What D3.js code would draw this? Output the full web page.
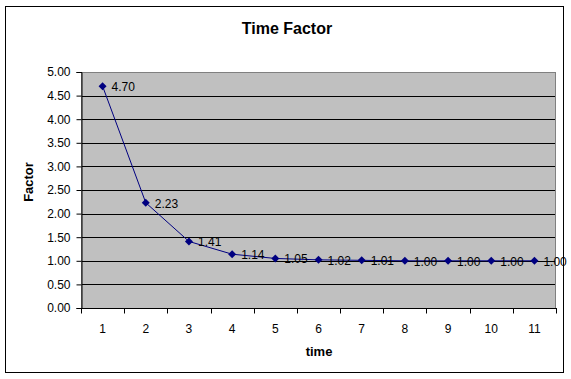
<!DOCTYPE html>
<html><head><meta charset="utf-8">
<script src="https://cdn.jsdelivr.net/npm/d3@7"></script>
<style>body{margin:0;background:#fff}svg{display:block}text{font-family:"Liberation Sans",Arial,sans-serif}</style>
</head><body><svg id="c" width="571" height="379"></svg>
<script>
const categories = [1,2,3,4,5,6,7,8,9,10,11];
const factor = [4.70,2.23,1.41,1.14,1.05,1.02,1.01,1.00,1.00,1.00,1.00];
const yTicks = [0,0.5,1,1.5,2,2.5,3,3.5,4,4.5,5];

const svg = d3.select("#c");
const L=81, R=556, T=72, B=308;
svg.append("rect").attr("x",5.5).attr("y",6.5).attr("width",558).attr("height",366)
  .attr("fill","#fff").attr("stroke","#000").attr("stroke-width",1);

const x = d3.scaleBand().domain(categories).range([L,R]);
const y = d3.scaleLinear().domain([0,5]).range([B,T]);

svg.append("rect").attr("x",L).attr("y",T).attr("width",R-L).attr("height",B-T).attr("fill","#c0c0c0");
svg.append("g").selectAll("line").data(yTicks.filter(d=>d>0)).join("line")
  .attr("x1",L).attr("x2",R).attr("y1",d=>Math.round(y(d))+0.5).attr("y2",d=>Math.round(y(d))+0.5)
  .attr("stroke","#000");
svg.append("rect").attr("x",L+0.5).attr("y",T+0.5).attr("width",R-L-1).attr("height",B-T)
  .attr("fill","none").attr("stroke","#808080");

const ya = svg.append("g").attr("transform",`translate(${L+0.5},0)`)
  .call(d3.axisLeft(y).tickValues(yTicks).tickFormat(d3.format(".2f")).tickSize(5).tickPadding(6));
ya.select(".domain").attr("stroke","#000");
ya.selectAll("text").attr("font-size",12).attr("fill","#000");

const xa = svg.append("g").attr("transform",`translate(0,${B+0.5})`);
xa.append("line").attr("x1",L).attr("x2",R+1).attr("stroke","#000");
xa.selectAll(".tk").data(d3.range(categories.length+1)).join("line")
  .attr("x1",i=>Math.round(L+i*x.step())+0.5).attr("x2",i=>Math.round(L+i*x.step())+0.5)
  .attr("y1",0).attr("y2",5).attr("stroke","#000");
xa.selectAll("text").data(categories).join("text")
  .attr("x",d=>x(d)+x.bandwidth()/2).attr("y",24).attr("text-anchor","middle")
  .attr("font-size",12).text(d=>d);

const cx = d=>x(d)+x.bandwidth()/2;
svg.append("path").datum(categories.map((c,i)=>[cx(c),y(factor[i])]))
  .attr("d",d3.line()).attr("fill","none").attr("stroke","#000080").attr("stroke-width",1);
svg.append("g").selectAll("path").data(categories).join("path")
  .attr("transform",(c,i)=>`translate(${cx(c)},${y(factor[i])})`)
  .attr("d","M0,-4L4,0L0,4L-4,0Z").attr("fill","#000080");
svg.append("g").selectAll("text").data(categories).join("text")
  .attr("x",c=>cx(c)+9).attr("y",(c,i)=>y(factor[i])+5)
  .attr("font-size",12).attr("fill","#000").text((c,i)=>factor[i].toFixed(2));

svg.append("text").attr("x",287).attr("y",34).attr("text-anchor","middle")
  .attr("font-size",16).attr("font-weight","bold").text("Time Factor");
svg.append("text").attr("transform","translate(33,182) rotate(-90)").attr("text-anchor","middle")
  .attr("font-size",13).attr("font-weight","bold").text("Factor");
svg.append("text").attr("x",319).attr("y",356).attr("text-anchor","middle")
  .attr("font-size",13).attr("font-weight","bold").text("time");
</script></body></html>
